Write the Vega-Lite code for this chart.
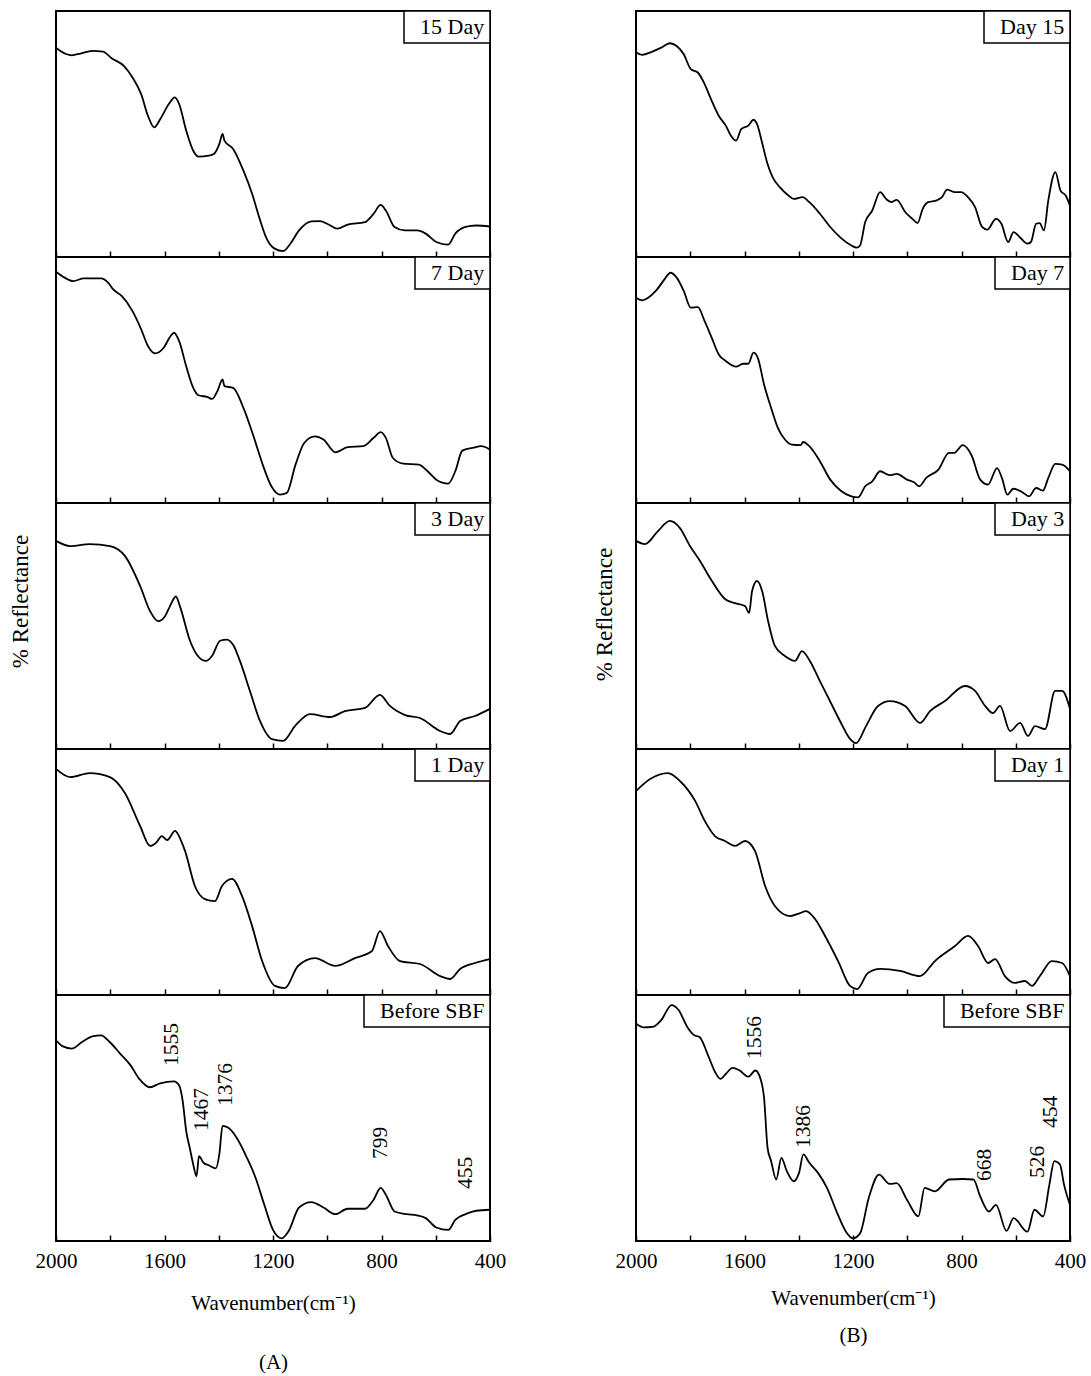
{
"$schema": "https://vega.github.io/schema/vega-lite/v6.json",
"background": "white",
"padding": {"left": 8, "top": 9, "right": 5, "bottom": 5},
"columns": 2,
"spacing": {"row": 0, "column": 146},
"bounds": "flush",
"resolve": {"scale": {"x": "independent", "y": "independent", "color": "independent"}, "axis": {"x": "independent", "y": "independent"}, "legend": {"color": "independent"}},
"config": {
  "view": {"stroke": "black", "strokeWidth": 2},
  "font": "Liberation Serif",
  "line": {"stroke": "black", "strokeWidth": 1.8, "interpolate": "monotone"},
  "axis": {"domain": false, "grid": false, "tickColor": "black", "tickWidth": 1.5, "labelFont": "Liberation Serif", "labelFontSize": 21, "labelColor": "black", "titleFont": "Liberation Serif", "titleFontSize": 21, "titleFontWeight": "normal", "titleColor": "black"},
  "legend": {"orient": "top-right", "offset": 0, "strokeColor": "black", "strokeWidth": 1.5, "fillColor": "white", "padding": 5, "cornerRadius": 0, "symbolType": "stroke", "symbolSize": 1, "symbolOpacity": 0, "labelFont": "Liberation Serif", "labelFontSize": 22, "labelColor": "black", "labelOffset": -11, "labelLimit": 300}
},
"concat": [
{
 "width": 434, "height": 246,
 "data": {"values": [{"w":2000,"r":85.1},{"w":1981,"r":83.5},{"w":1942,"r":82.0},{"w":1910,"r":82.7},{"w":1866,"r":83.8},{"w":1827,"r":83.5},{"w":1795,"r":80.8},{"w":1750,"r":77.7},{"w":1718,"r":73},{"w":1686,"r":66.2},{"w":1661,"r":57.4},{"w":1638,"r":52.7},{"w":1616,"r":56},{"w":1584,"r":62.2},{"w":1562,"r":64.9},{"w":1546,"r":62.2},{"w":1520,"r":51.4},{"w":1494,"r":43.2},{"w":1475,"r":40.8},{"w":1437,"r":41.2},{"w":1418,"r":41.9},{"w":1398,"r":45.9},{"w":1386,"r":50},{"w":1379,"r":47.3},{"w":1347,"r":43.9},{"w":1309,"r":35.1},{"w":1277,"r":25.7},{"w":1251,"r":16.2},{"w":1226,"r":8.1},{"w":1194,"r":3.4},{"w":1162,"r":2.4},{"w":1136,"r":5.4},{"w":1104,"r":10.8},{"w":1059,"r":14.5},{"w":1027,"r":14.6},{"w":995,"r":13.2},{"w":963,"r":11.5},{"w":925,"r":13.2},{"w":861,"r":14.2},{"w":829,"r":17.6},{"w":803,"r":21.2},{"w":784,"r":18.9},{"w":752,"r":12.2},{"w":714,"r":10.8},{"w":669,"r":10.8},{"w":637,"r":9.5},{"w":598,"r":6.1},{"w":554,"r":5.0},{"w":528,"r":9.5},{"w":490,"r":12.2},{"w":451,"r":12.8},{"w":400,"r":12.4}]},
 "mark": "line",
 "encoding": {
  "x": {"field": "w", "type": "quantitative", "scale": {"domain": [400, 2000], "reverse": true, "nice": false}, "axis": {"values": [2000,1800,1600,1400,1200,1000,800,600,400], "tickSize": -6, "labels": false, "title": null}},
  "y": {"field": "r", "type": "quantitative", "scale": {"domain": [0, 100], "nice": false, "zero": false}, "axis": null},
  "color": {"datum": "15 Day", "type": "nominal", "scale": {"range": ["black"]}, "legend": {"title": null}}
 }
},
{
 "width": 434, "height": 246,
 "data": {"values": [{"w":2000,"r":83.1},{"w":1978,"r":82.2},{"w":1940,"r":83.5},{"w":1907,"r":85.1},{"w":1875,"r":86.9},{"w":1850,"r":85.8},{"w":1824,"r":82.4},{"w":1798,"r":76.4},{"w":1772,"r":75},{"w":1747,"r":70.3},{"w":1721,"r":63.5},{"w":1695,"r":57.4},{"w":1669,"r":53.4},{"w":1650,"r":49.3},{"w":1631,"r":47.3},{"w":1612,"r":52},{"w":1586,"r":53.4},{"w":1567,"r":55.8},{"w":1554,"r":54.1},{"w":1534,"r":45.9},{"w":1515,"r":37.8},{"w":1496,"r":32.4},{"w":1470,"r":28.4},{"w":1438,"r":25},{"w":1419,"r":23.6},{"w":1386,"r":24.3},{"w":1361,"r":22.3},{"w":1322,"r":17.6},{"w":1284,"r":12.2},{"w":1245,"r":7.8},{"w":1206,"r":4.7},{"w":1187,"r":3.8},{"w":1174,"r":4.7},{"w":1155,"r":14.2},{"w":1129,"r":18.9},{"w":1100,"r":26.4},{"w":1078,"r":23.6},{"w":1059,"r":22.3},{"w":1039,"r":23.2},{"w":1007,"r":18.2},{"w":981,"r":15.5},{"w":962,"r":13.8},{"w":943,"r":19.6},{"w":923,"r":22.3},{"w":891,"r":23},{"w":872,"r":24.3},{"w":853,"r":27.4},{"w":827,"r":26.4},{"w":801,"r":26.4},{"w":776,"r":24.3},{"w":750,"r":20.3},{"w":724,"r":12.2},{"w":705,"r":11.1},{"w":673,"r":15.5},{"w":653,"r":13.5},{"w":628,"r":6.1},{"w":608,"r":10.1},{"w":583,"r":7.8},{"w":557,"r":5.4},{"w":544,"r":6.1},{"w":525,"r":13.5},{"w":512,"r":13.8},{"w":496,"r":10.8},{"w":480,"r":23},{"w":454,"r":34.5},{"w":435,"r":27},{"w":416,"r":25},{"w":400,"r":20.9}]},
 "mark": "line",
 "encoding": {
  "x": {"field": "w", "type": "quantitative", "scale": {"domain": [400, 2000], "reverse": true, "nice": false}, "axis": {"values": [2000,1800,1600,1400,1200,1000,800,600,400], "tickSize": -6, "labels": false, "title": null}},
  "y": {"field": "r", "type": "quantitative", "scale": {"domain": [0, 100], "nice": false, "zero": false}, "axis": null},
  "color": {"datum": "Day 15", "type": "nominal", "scale": {"range": ["black"]}, "legend": {"title": null}}
 }
},
{
 "width": 434, "height": 246,
 "data": {"values": [{"w":2000,"r":94.0},{"w":1968,"r":91.6},{"w":1936,"r":90.2},{"w":1898,"r":91.3},{"w":1834,"r":91.3},{"w":1808,"r":89.6},{"w":1789,"r":86.8},{"w":1757,"r":84.1},{"w":1718,"r":78},{"w":1686,"r":70.6},{"w":1661,"r":63.8},{"w":1635,"r":60.8},{"w":1603,"r":63.1},{"w":1578,"r":67.8},{"w":1565,"r":69.2},{"w":1546,"r":65.8},{"w":1520,"r":55.6},{"w":1494,"r":46.8},{"w":1475,"r":43.8},{"w":1443,"r":43.1},{"w":1424,"r":42.3},{"w":1405,"r":45.5},{"w":1386,"r":50.2},{"w":1379,"r":47.5},{"w":1347,"r":46.8},{"w":1309,"r":38.7},{"w":1270,"r":26.5},{"w":1238,"r":15.6},{"w":1206,"r":6.8},{"w":1174,"r":3.4},{"w":1149,"r":4.1},{"w":1117,"r":15.6},{"w":1085,"r":24.4},{"w":1046,"r":27.1},{"w":1014,"r":25.8},{"w":970,"r":20.6},{"w":925,"r":22.7},{"w":867,"r":23.1},{"w":829,"r":26.5},{"w":803,"r":28.8},{"w":784,"r":26.5},{"w":758,"r":18.3},{"w":720,"r":16},{"w":662,"r":15.6},{"w":630,"r":12.9},{"w":598,"r":9.5},{"w":554,"r":7.9},{"w":528,"r":12.9},{"w":502,"r":21.3},{"w":464,"r":22.4},{"w":432,"r":23.1},{"w":400,"r":21.7}]},
 "mark": "line",
 "encoding": {
  "x": {"field": "w", "type": "quantitative", "scale": {"domain": [400, 2000], "reverse": true, "nice": false}, "axis": {"values": [2000,1800,1600,1400,1200,1000,800,600,400], "tickSize": -6, "labels": false, "title": null}},
  "y": {"field": "r", "type": "quantitative", "scale": {"domain": [0, 100], "nice": false, "zero": false}, "axis": null},
  "color": {"datum": "7 Day", "type": "nominal", "scale": {"range": ["black"]}, "legend": {"title": null}}
 }
},
{
 "width": 434, "height": 246,
 "data": {"values": [{"w":2000,"r":83.4},{"w":1978,"r":82.4},{"w":1927,"r":86.2},{"w":1895,"r":90.9},{"w":1873,"r":93.6},{"w":1850,"r":91.6},{"w":1824,"r":86.2},{"w":1798,"r":79.4},{"w":1772,"r":79.6},{"w":1747,"r":73.9},{"w":1721,"r":67.2},{"w":1695,"r":60.4},{"w":1669,"r":57.7},{"w":1631,"r":55.4},{"w":1605,"r":56.6},{"w":1586,"r":56.6},{"w":1567,"r":61.1},{"w":1551,"r":59},{"w":1528,"r":48.2},{"w":1502,"r":38.7},{"w":1477,"r":30.5},{"w":1451,"r":25.8},{"w":1425,"r":23.7},{"w":1393,"r":23.5},{"w":1384,"r":24.8},{"w":1361,"r":23.1},{"w":1322,"r":17},{"w":1284,"r":9.5},{"w":1245,"r":5},{"w":1206,"r":2.7},{"w":1181,"r":2.3},{"w":1155,"r":6.8},{"w":1129,"r":8.8},{"w":1100,"r":12.9},{"w":1065,"r":11.3},{"w":1039,"r":11.8},{"w":1001,"r":9.5},{"w":975,"r":8.4},{"w":956,"r":6.8},{"w":930,"r":10.2},{"w":885,"r":13.6},{"w":846,"r":20.4},{"w":827,"r":20.4},{"w":795,"r":23.5},{"w":763,"r":19.4},{"w":731,"r":9.5},{"w":702,"r":7.5},{"w":669,"r":14.2},{"w":651,"r":10.2},{"w":631,"r":3.4},{"w":609,"r":5.8},{"w":577,"r":4.5},{"w":551,"r":2.7},{"w":525,"r":6.1},{"w":500,"r":5},{"w":480,"r":10.2},{"w":454,"r":15.9},{"w":429,"r":15.6},{"w":400,"r":12.9}]},
 "mark": "line",
 "encoding": {
  "x": {"field": "w", "type": "quantitative", "scale": {"domain": [400, 2000], "reverse": true, "nice": false}, "axis": {"values": [2000,1800,1600,1400,1200,1000,800,600,400], "tickSize": -6, "labels": false, "title": null}},
  "y": {"field": "r", "type": "quantitative", "scale": {"domain": [0, 100], "nice": false, "zero": false}, "axis": null},
  "color": {"datum": "Day 7", "type": "nominal", "scale": {"range": ["black"]}, "legend": {"title": null}}
 }
},
{
 "width": 434, "height": 246,
 "data": {"values": [{"w":2000,"r":84.6},{"w":1948,"r":82.5},{"w":1875,"r":83.3},{"w":1801,"r":82.5},{"w":1746,"r":78.5},{"w":1690,"r":66.3},{"w":1653,"r":56},{"w":1624,"r":52},{"w":1598,"r":54},{"w":1580,"r":58},{"w":1558,"r":62},{"w":1543,"r":58},{"w":1506,"r":44},{"w":1477,"r":37.8},{"w":1447,"r":35.8},{"w":1425,"r":37.8},{"w":1395,"r":44},{"w":1370,"r":44.5},{"w":1345,"r":42},{"w":1322,"r":35.8},{"w":1285,"r":23.6},{"w":1248,"r":11.4},{"w":1204,"r":4},{"w":1163,"r":3.3},{"w":1119,"r":9.3},{"w":1064,"r":14.2},{"w":990,"r":13},{"w":935,"r":15.4},{"w":861,"r":16.7},{"w":806,"r":22},{"w":769,"r":17.5},{"w":713,"r":13.8},{"w":658,"r":12.6},{"w":584,"r":7.3},{"w":547,"r":6.1},{"w":510,"r":11.4},{"w":455,"r":13.4},{"w":400,"r":16.3}]},
 "mark": "line",
 "encoding": {
  "x": {"field": "w", "type": "quantitative", "scale": {"domain": [400, 2000], "reverse": true, "nice": false}, "axis": {"values": [2000,1800,1600,1400,1200,1000,800,600,400], "tickSize": -6, "labels": false, "title": null}},
  "y": {"field": "r", "type": "quantitative", "scale": {"domain": [0, 100], "nice": false, "zero": false}, "axis": {"title": "% Reflectance", "titleFontSize": 23, "labels": false, "ticks": false, "titleX": -36, "titleY": 98, "titleAngle": 270, "titleAlign": "center", "titleBaseline": "middle"}},
  "color": {"datum": "3 Day", "type": "nominal", "scale": {"range": ["black"]}, "legend": {"title": null}}
 }
},
{
 "width": 434, "height": 246,
 "data": {"values": [{"w":2000,"r":84.6},{"w":1967,"r":83.3},{"w":1919,"r":88.6},{"w":1875,"r":92.7},{"w":1838,"r":89.8},{"w":1801,"r":82.5},{"w":1764,"r":76.4},{"w":1720,"r":68.3},{"w":1672,"r":61},{"w":1635,"r":59.3},{"w":1598,"r":58.1},{"w":1583,"r":55.3},{"w":1572,"r":64.2},{"w":1554,"r":68.3},{"w":1535,"r":64.2},{"w":1513,"r":52},{"w":1488,"r":41.9},{"w":1451,"r":37.8},{"w":1414,"r":35.8},{"w":1388,"r":39.8},{"w":1359,"r":35.8},{"w":1322,"r":27.6},{"w":1285,"r":19.5},{"w":1248,"r":11.4},{"w":1211,"r":4.1},{"w":1189,"r":2.4},{"w":1152,"r":9.3},{"w":1108,"r":17.5},{"w":1064,"r":19.5},{"w":1008,"r":17.5},{"w":953,"r":10.6},{"w":916,"r":15.4},{"w":861,"r":19.5},{"w":787,"r":25.6},{"w":750,"r":23.6},{"w":713,"r":17.5},{"w":684,"r":14.6},{"w":658,"r":17.5},{"w":621,"r":7.3},{"w":584,"r":10.6},{"w":555,"r":5.3},{"w":529,"r":9.3},{"w":492,"r":8.1},{"w":455,"r":23.6},{"w":429,"r":23.6},{"w":400,"r":16.3}]},
 "mark": "line",
 "encoding": {
  "x": {"field": "w", "type": "quantitative", "scale": {"domain": [400, 2000], "reverse": true, "nice": false}, "axis": {"values": [2000,1800,1600,1400,1200,1000,800,600,400], "tickSize": -6, "labels": false, "title": null}},
  "y": {"field": "r", "type": "quantitative", "scale": {"domain": [0, 100], "nice": false, "zero": false}, "axis": {"title": "% Reflectance", "titleFontSize": 23, "labels": false, "ticks": false, "titleX": -32, "titleY": 111, "titleAngle": 270, "titleAlign": "center", "titleBaseline": "middle"}},
  "color": {"datum": "Day 3", "type": "nominal", "scale": {"range": ["black"]}, "legend": {"title": null}}
 }
},
{
 "width": 434, "height": 246,
 "data": {"values": [{"w":2000,"r":91.9},{"w":1948,"r":88.6},{"w":1875,"r":90.2},{"w":1801,"r":88.6},{"w":1746,"r":82.1},{"w":1690,"r":68.7},{"w":1653,"r":60.6},{"w":1630,"r":62},{"w":1610,"r":64.6},{"w":1590,"r":63},{"w":1561,"r":66.7},{"w":1540,"r":63},{"w":1524,"r":58.5},{"w":1488,"r":44.3},{"w":1451,"r":39},{"w":1414,"r":38.2},{"w":1388,"r":44.3},{"w":1351,"r":47.2},{"w":1314,"r":40.2},{"w":1277,"r":28},{"w":1240,"r":13.8},{"w":1193,"r":3.7},{"w":1156,"r":2.8},{"w":1108,"r":11.8},{"w":1045,"r":15},{"w":971,"r":11.8},{"w":898,"r":15},{"w":835,"r":17.9},{"w":806,"r":26},{"w":776,"r":19.9},{"w":732,"r":13.8},{"w":658,"r":12.6},{"w":584,"r":7.7},{"w":547,"r":6.5},{"w":510,"r":10.6},{"w":455,"r":13},{"w":400,"r":14.6}]},
 "mark": "line",
 "encoding": {
  "x": {"field": "w", "type": "quantitative", "scale": {"domain": [400, 2000], "reverse": true, "nice": false}, "axis": {"values": [2000,1800,1600,1400,1200,1000,800,600,400], "tickSize": -6, "labels": false, "title": null}},
  "y": {"field": "r", "type": "quantitative", "scale": {"domain": [0, 100], "nice": false, "zero": false}, "axis": null},
  "color": {"datum": "1 Day", "type": "nominal", "scale": {"range": ["black"]}, "legend": {"title": null}}
 }
},
{
 "width": 434, "height": 246,
 "data": {"values": [{"w":2000,"r":82.9},{"w":1948,"r":87.8},{"w":1882,"r":90.2},{"w":1838,"r":87},{"w":1782,"r":78.9},{"w":1746,"r":70.7},{"w":1709,"r":64.6},{"w":1672,"r":62.6},{"w":1635,"r":60.6},{"w":1598,"r":62.6},{"w":1561,"r":58.5},{"w":1524,"r":44.3},{"w":1488,"r":36.2},{"w":1432,"r":32.1},{"w":1395,"r":33.3},{"w":1373,"r":34.1},{"w":1340,"r":30.9},{"w":1303,"r":24},{"w":1255,"r":13.8},{"w":1211,"r":3.7},{"w":1185,"r":2.4},{"w":1145,"r":8.9},{"w":1100,"r":10.6},{"w":1027,"r":9.8},{"w":953,"r":7.7},{"w":898,"r":13.8},{"w":824,"r":19.9},{"w":776,"r":24},{"w":739,"r":19.9},{"w":702,"r":13},{"w":676,"r":14.6},{"w":640,"r":7.7},{"w":603,"r":4.9},{"w":566,"r":5.7},{"w":540,"r":3.7},{"w":511,"r":7.7},{"w":467,"r":13.8},{"w":429,"r":13},{"w":400,"r":7.7}]},
 "mark": "line",
 "encoding": {
  "x": {"field": "w", "type": "quantitative", "scale": {"domain": [400, 2000], "reverse": true, "nice": false}, "axis": {"values": [2000,1800,1600,1400,1200,1000,800,600,400], "tickSize": -6, "labels": false, "title": null}},
  "y": {"field": "r", "type": "quantitative", "scale": {"domain": [0, 100], "nice": false, "zero": false}, "axis": null},
  "color": {"datum": "Day 1", "type": "nominal", "scale": {"range": ["black"]}, "legend": {"title": null}}
 }
},
{
 "width": 434, "height": 246,
 "encoding": {
  "x": {"field": "w", "type": "quantitative", "scale": {"domain": [400, 2000], "reverse": true, "nice": false}, "axis": {"values": [2000,1800,1600,1400,1200,1000,800,600,400], "tickSize": -6, "labelExpr": "datum.value % 400 === 0 ? '' + datum.value : ''", "labelPadding": 15, "labelFlush": false, "labelOverlap": false, "title": ["Wavenumber(cm⁻¹)", "(A)"], "titlePadding": 21, "titleLineHeight": 59}},
  "y": {"field": "r", "type": "quantitative", "scale": {"domain": [0, 100], "nice": false, "zero": false}, "axis": null}
 },
 "layer": [
  {
   "data": {"values": [{"w":2000,"r":81.6},{"w":1974,"r":79.1},{"w":1942,"r":78.2},{"w":1904,"r":80.9},{"w":1866,"r":83.2},{"w":1834,"r":83.6},{"w":1802,"r":80.9},{"w":1763,"r":76.1},{"w":1725,"r":71.4},{"w":1693,"r":65.9},{"w":1654,"r":62.5},{"w":1616,"r":64.1},{"w":1565,"r":64.9},{"w":1546,"r":63.2},{"w":1533,"r":57},{"w":1520,"r":44.7},{"w":1507,"r":37.9},{"w":1494,"r":31.1},{"w":1482,"r":26.3},{"w":1473,"r":34.5},{"w":1456,"r":31.8},{"w":1437,"r":30.8},{"w":1411,"r":29.5},{"w":1398,"r":35.2},{"w":1386,"r":46.8},{"w":1366,"r":46.1},{"w":1334,"r":42},{"w":1296,"r":33.8},{"w":1264,"r":25.6},{"w":1232,"r":14.7},{"w":1200,"r":4.5},{"w":1168,"r":1.1},{"w":1142,"r":4.1},{"w":1104,"r":13.6},{"w":1059,"r":15.8},{"w":1014,"r":13.6},{"w":970,"r":10.9},{"w":925,"r":13.1},{"w":861,"r":13.1},{"w":829,"r":16.8},{"w":803,"r":21.6},{"w":784,"r":18.8},{"w":752,"r":12},{"w":707,"r":10.9},{"w":669,"r":10.4},{"w":637,"r":9.3},{"w":598,"r":5.5},{"w":554,"r":4.5},{"w":528,"r":8.6},{"w":490,"r":10.9},{"w":451,"r":12.3},{"w":400,"r":12.7}]},
   "mark": "line",
   "encoding": {"color": {"datum": "Before SBF", "type": "nominal", "scale": {"range": ["black"]}, "legend": {"title": null}}}
  },
  {
   "data": {"values": [{"w":1572,"r":71.1,"t":"1555"},{"w":1462,"r":44.7,"t":"1467"},{"w":1373,"r":54.9,"t":"1376"},{"w":802,"r":33.3,"t":"799"},{"w":489,"r":21.1,"t":"455"}]},
   "mark": {"type": "text", "angle": 270, "align": "left", "baseline": "middle", "font": "Liberation Serif", "fontSize": 21.5, "color": "black"},
   "encoding": {"text": {"field": "t"}}
  }
 ]
},
{
 "width": 434, "height": 246,
 "encoding": {
  "x": {"field": "w", "type": "quantitative", "scale": {"domain": [400, 2000], "reverse": true, "nice": false}, "axis": {"values": [2000,1800,1600,1400,1200,1000,800,600,400], "tickSize": -6, "labelExpr": "datum.value % 400 === 0 ? '' + datum.value : ''", "labelPadding": 15, "labelFlush": false, "labelOverlap": false, "title": ["Wavenumber(cm⁻¹)", "(B)"], "titlePadding": 16, "titleLineHeight": 37}},
  "y": {"field": "r", "type": "quantitative", "scale": {"domain": [0, 100], "nice": false, "zero": false}, "axis": null}
 },
 "layer": [
  {
   "data": {"values": [{"w":2000,"r":88.4},{"w":1972,"r":86.8},{"w":1940,"r":87},{"w":1907,"r":89.8},{"w":1869,"r":95.9},{"w":1843,"r":93.9},{"w":1811,"r":87},{"w":1785,"r":83.6},{"w":1766,"r":82.9},{"w":1734,"r":75.4},{"w":1708,"r":68.6},{"w":1689,"r":65.9},{"w":1669,"r":67.9},{"w":1644,"r":70.4},{"w":1618,"r":69.3},{"w":1586,"r":66.8},{"w":1560,"r":69.3},{"w":1541,"r":65.9},{"w":1528,"r":58.4},{"w":1515,"r":37.9},{"w":1502,"r":32.5},{"w":1483,"r":25},{"w":1464,"r":33.8},{"w":1444,"r":28.4},{"w":1419,"r":24.3},{"w":1399,"r":27.7},{"w":1383,"r":35.2},{"w":1361,"r":31.8},{"w":1329,"r":27.7},{"w":1296,"r":21.6},{"w":1258,"r":11.3},{"w":1226,"r":3.8},{"w":1200,"r":1.1},{"w":1174,"r":3.1},{"w":1142,"r":17.5},{"w":1104,"r":27},{"w":1065,"r":23.2},{"w":1039,"r":23.5},{"w":1001,"r":16.8},{"w":959,"r":10},{"w":936,"r":21.6},{"w":898,"r":20.2},{"w":846,"r":25},{"w":795,"r":25.2},{"w":756,"r":25},{"w":731,"r":18.1},{"w":699,"r":12},{"w":673,"r":14.7},{"w":634,"r":4.1},{"w":608,"r":9.3},{"w":557,"r":3.8},{"w":531,"r":12.7},{"w":499,"r":10},{"w":476,"r":22.9},{"w":458,"r":32.5},{"w":437,"r":31.1},{"w":422,"r":22.9},{"w":400,"r":14.7}]},
   "mark": "line",
   "encoding": {"color": {"datum": "Before SBF", "type": "nominal", "scale": {"range": ["black"]}, "legend": {"title": null}}}
  },
  {
   "data": {"values": [{"w":1561,"r":74,"t":"1556"},{"w":1381,"r":37.8,"t":"1386"},{"w":713,"r":24.4,"t":"668"},{"w":518,"r":25.6,"t":"526"},{"w":470,"r":45.9,"t":"454"}]},
   "mark": {"type": "text", "angle": 270, "align": "left", "baseline": "middle", "font": "Liberation Serif", "fontSize": 21.5, "color": "black"},
   "encoding": {"text": {"field": "t"}}
  }
 ]
}
]
}
